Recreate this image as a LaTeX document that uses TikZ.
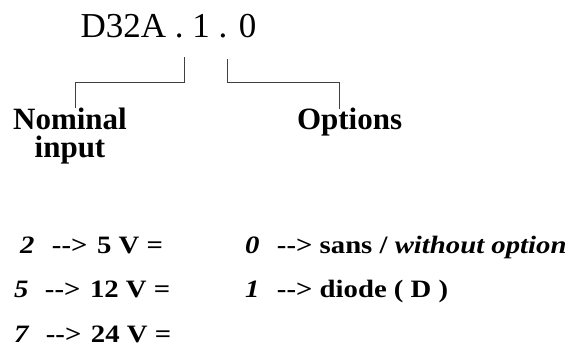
\documentclass[tikz,border=0pt]{standalone}
\usepackage{fontspec}
\usepackage{graphicx}
\setmainfont{Liberation Serif}
\newcommand{\arw}{-{}-{}>}
\newcommand{\wide}[1]{\scalebox{1.15}[1]{#1}}
\tikzset{
  lbl/.style={inner sep=0pt, outer sep=0pt},
  coderow/.style={lbl, anchor=base west, font=\bfseries\fontsize{25}{30}\selectfont},
  head/.style={lbl, font=\bfseries\fontsize{31}{28}\selectfont},
  bracket/.style={draw=black!75, line width=1pt}
}
\begin{document}
\begin{tikzpicture}[x=1pt,y=-1pt]
\useasboundingbox (0,0) rectangle (581,346);
% part number
\node[lbl, anchor=base west, font=\fontsize{35}{42}\selectfont] (code) at (80.5,37) {D32A . 1 . 0};
% headings
\node[head, anchor=base, align=center] (nom) at (70,157) {Nominal\\input};
\node[head, anchor=base west] (opt) at (297,129) {Options};
% bracket ends
\coordinate (n1) at (184,57);
\coordinate (n2) at (75,108);
\coordinate (o1) at (227,59);
\coordinate (o2) at (339,109);
\draw[bracket] (n1) -- (n1 |- 0,82) -| (n2);
\draw[bracket] (o1) -- (o1 |- 0,82) -| (o2);
% voltage codes
\node[coderow] (v1) at (20,253) {\wide{\textit{2}\hspace{15.3pt}\arw\hspace{8.3pt}5 V =}};
\node[coderow] (v2) at (14,297) {\wide{\textit{5}\hspace{14.4pt}\arw\hspace{8.3pt}12 V =}};
\node[coderow] (v3) at (14,342) {\wide{\textit{7}\hspace{14.4pt}\arw\hspace{8.3pt}24 V =}};
% option codes
\node[coderow] (p0) at (245,253) {\wide{\textit{0}\hspace{15.3pt}\arw{} sans / \textit{without option}}};
\node[coderow] (p1) at (245,297) {\wide{\textit{1}\hspace{15.3pt}\arw{} diode ( D )}};
\end{tikzpicture}
\end{document}
